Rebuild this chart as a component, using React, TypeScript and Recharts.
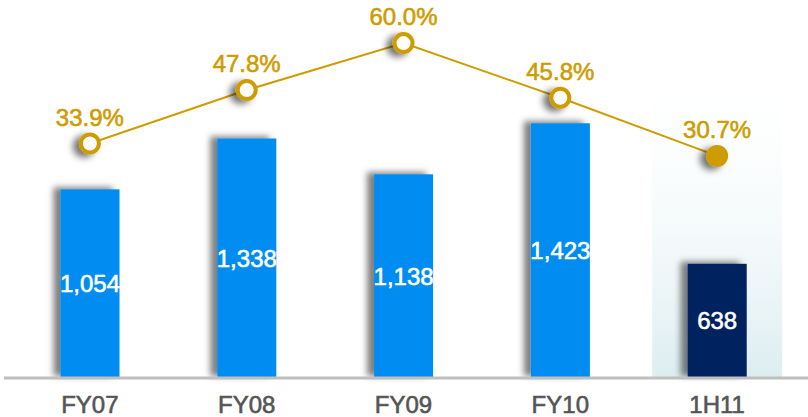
import { ComposedChart, Bar, Line, XAxis, YAxis, Cell, LabelList } from 'recharts'

const categories = ['FY07', 'FY08', 'FY09', 'FY10', '1H11']
const revenue = [1054, 1338, 1138, 1423, 638]
const marginPct = [33.9, 47.8, 60.0, 45.8, 30.7]

const data = categories.map((name, i) => ({
  name,
  revenue: revenue[i],
  pct: marginPct[i],
}))

const BLUE = '#008cf0'
const NAVY = '#00205f'
const GOLD = '#cf9c00'
const FONT = '"Liberation Sans", Arial, sans-serif'
const last = categories.length - 1

// light panel behind the half-year column
function Highlight(props: any) {
  const { x, y, width, height, index } = props
  if (index !== last) return <g />
  const w = 130
  return (
    <rect
      x={x + width / 2 - w / 2}
      y={y + 30}
      width={w}
      height={height - 30}
      fill="url(#hl)"
    />
  )
}

function Dot(props: any) {
  const { cx, cy, index } = props
  if (index === last)
    return <circle cx={cx} cy={cy} r={11} fill={GOLD} filter="url(#dotShadow)" />
  return (
    <circle
      cx={cx}
      cy={cy}
      r={9}
      fill="#fff"
      stroke={GOLD}
      strokeWidth={4}
      filter="url(#dotShadow)"
    />
  )
}

function BarShape(props: any) {
  const { x, y, width, height, fill } = props
  return <rect x={x} y={y} width={width} height={height} fill={fill} filter="url(#barShadow)" />
}

export default function App() {
  return (
    <div style={{ position: 'absolute', left: 0, top: 0 }}>
      <ComposedChart
        width={808}
        height={417}
        data={data}
        margin={{ top: 20, right: 0, left: 4, bottom: 9 }}
        style={{ fontFamily: FONT }}
      >
        <defs>
          <linearGradient id="hl" x1="0" y1="0" x2="0" y2="1">
            <stop offset="0%" stopColor="#ffffff" stopOpacity={0} />
            <stop offset="100%" stopColor="#dcedf0" stopOpacity={1} />
          </linearGradient>
          <filter id="barShadow" x="-40%" y="-20%" width="160%" height="140%">
            <feDropShadow dx={-7} dy={-2} stdDeviation={3} floodColor="#000" floodOpacity={0.5} />
          </filter>
          <filter id="dotShadow" x="-80%" y="-80%" width="260%" height="260%">
            <feDropShadow dx={-6} dy={3} stdDeviation={3.5} floodColor="#000" floodOpacity={0.55} />
          </filter>
        </defs>
        <XAxis
          dataKey="name"
          axisLine={{ stroke: '#bfbfbf', strokeWidth: 3 }}
          tickLine={false}
          tickSize={0}
          tickMargin={18}
          height={30}
          padding={{ left: 7.5, right: 12.5 }}
          tick={{
            fill: '#555555',
            stroke: '#555555',
            strokeWidth: 0.6,
            fontSize: 24,
            fontFamily: FONT,
          }}
        />
        <YAxis yAxisId="bar" hide domain={[0, 2000]} />
        <YAxis yAxisId="pct" hide orientation="right" domain={[-27, 66]} />
        <Bar
          yAxisId="bar"
          dataKey="revenue"
          barSize={59}
          isAnimationActive={false}
          background={Highlight}
          shape={BarShape}
        >
          {data.map((d, i) => (
            <Cell key={d.name} fill={i === last ? NAVY : BLUE} />
          ))}
          <LabelList
            dataKey="revenue"
            position="center"
            fill="#ffffff"
            stroke="#ffffff"
            strokeWidth={0.6}
            fontSize={24}
            fontFamily={FONT}
            formatter={(v: any) => Number(v).toLocaleString('en-US')}
          />
        </Bar>
        <Line
          yAxisId="pct"
          dataKey="pct"
          stroke={GOLD}
          strokeWidth={2}
          dot={Dot}
          activeDot={false}
          isAnimationActive={false}
        >
          <LabelList
            dataKey="pct"
            position="top"
            offset={18}
            fill={GOLD}
            stroke={GOLD}
            strokeWidth={0.6}
            fontSize={24}
            fontFamily={FONT}
            formatter={(v: any) => `${Number(v).toFixed(1)}%`}
          />
        </Line>
      </ComposedChart>
    </div>
  )
}
